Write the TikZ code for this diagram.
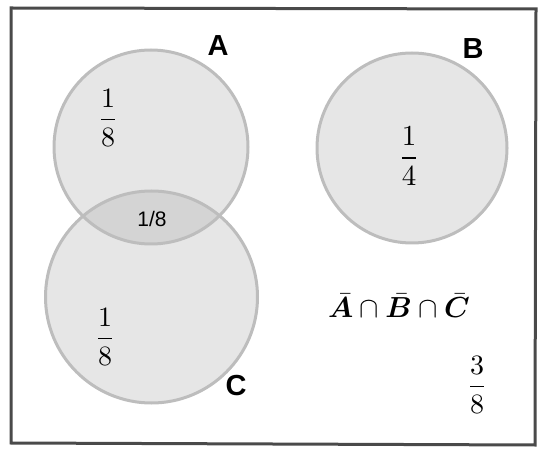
\documentclass[tikz,border=0pt]{standalone}
\usepackage{amsmath}
\usepackage{bm}
\usepackage{graphicx}
\usepackage{fontspec}
\newfontfamily\labelfont{Liberation Sans}
\definecolor{framegray}{HTML}{4A4A4A}
\definecolor{circstroke}{HTML}{BDBDBD}
\definecolor{circfill}{HTML}{E6E6E6}
\definecolor{interfill}{HTML}{D4D4D4}
\newcommand{\bigfrac}[3]{\scalebox{#1}{$\displaystyle\frac{#2}{#3}$}}
\begin{document}
\begin{tikzpicture}[x=1pt,y=-1pt,
  setline/.style={draw=circstroke,line width=3pt},
  setlabel/.style={font=\labelfont\bfseries\fontsize{29}{30}\selectfont,inner sep=0pt},
  fraclabel/.style={inner sep=0pt}]
\useasboundingbox (0,0) rectangle (546,454);
% universe frame
\coordinate (tl) at (11,8);
\coordinate (tr) at (536,9);
\coordinate (br) at (535,445);
\coordinate (bl) at (11,443);
\draw[framegray,line width=3pt,line join=miter] (tl) -- (tr) -- (br) -- (bl) -- cycle;
% sets
\coordinate (cA) at (151,147);
\coordinate (cB) at (412,148);
\coordinate (cC) at (151.5,297);
\fill[circfill] (cA) circle (97);
\fill[circfill] (cC) circle (106);
\fill[circfill] (cB) circle (95);
\begin{scope}
  \clip (cA) circle (97);
  \fill[interfill] (cC) circle (106);
\end{scope}
\draw[setline] (cA) circle (97);
\draw[setline] (cC) circle (106);
\draw[setline] (cB) circle (95);
% set names
\node[setlabel] (labA) at (218,46) {A};
\node[setlabel] (labB) at (473,49) {B};
\node[setlabel] (labC) at (236,386) {C};
% probabilities
\node[fraclabel] (pA) at (108,118) {\bigfrac{2.8}{1}{8}};
\node[fraclabel] (pC) at (105,337) {\bigfrac{2.8}{1}{8}};
\node[fraclabel] (pB) at (409,156) {\bigfrac{2.9}{1}{4}};
\node[fraclabel] (pN) at (477,385) {\bigfrac{2.8}{3}{8}};
\node[font=\labelfont\fontsize{21}{22}\selectfont,inner sep=0pt] (pAC) at (152,219) {1/8};
\node[inner sep=0pt] (none) at (399,306)
  {\scalebox{2.9}{$\boldsymbol{\bar{A}}\cap\boldsymbol{\bar{B}}\cap\boldsymbol{\bar{C}}$}};
\end{tikzpicture}
\end{document}
